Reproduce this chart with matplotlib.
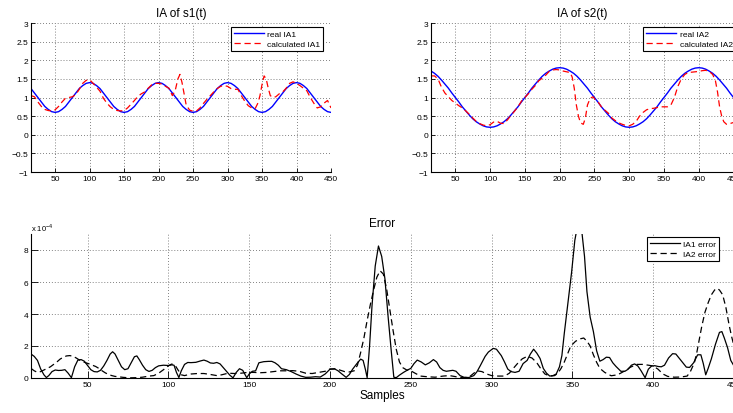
import numpy as np
import matplotlib
matplotlib.use("Agg")
import matplotlib.pyplot as plt

plt.rcParams['font.family'] = ['Liberation Sans', 'DejaVu Sans']
plt.rcParams['mathtext.fontset'] = 'custom'
plt.rcParams['mathtext.rm'] = 'Liberation Sans'

#DATA
#sample index of the real (smooth) amplitudes
samples = np.arange(15, 451, 5)

real_ia1 = [1.24, 1.12, 1.00, 0.88, 0.76, 0.68, 0.62, 0.60, 0.62, 0.68, 0.76, 0.88, 1.00, 1.12, 1.24, 1.32, 1.38,
            1.40, 1.38, 1.32, 1.24, 1.12, 1.00, 0.88, 0.76, 0.68, 0.62, 0.60, 0.62, 0.68, 0.76, 0.88, 1.00, 1.12, 1.24, 1.32, 1.38,
            1.40, 1.38, 1.32, 1.24, 1.12, 1.00, 0.88, 0.76, 0.68, 0.62, 0.60, 0.62, 0.68, 0.76, 0.88, 1.00, 1.12, 1.24, 1.32, 1.38,
            1.40, 1.38, 1.32, 1.24, 1.12, 1.00, 0.88, 0.76, 0.68, 0.62, 0.60, 0.62, 0.68, 0.76, 0.88, 1.00, 1.12, 1.24, 1.32, 1.38,
            1.40, 1.38, 1.32, 1.24, 1.12, 1.00, 0.88, 0.76, 0.68, 0.62, 0.60]

real_ia2 = [1.71, 1.65, 1.57, 1.47, 1.36, 1.25, 1.12, 1.00, 0.88, 0.75, 0.64, 0.53, 0.43, 0.35, 0.29, 0.24, 0.21,
            0.20, 0.21, 0.24, 0.29, 0.35, 0.43, 0.53, 0.64, 0.75, 0.88, 1.00, 1.12, 1.25, 1.36, 1.47, 1.57, 1.65, 1.71, 1.76, 1.79,
            1.80, 1.79, 1.76, 1.71, 1.65, 1.57, 1.47, 1.36, 1.25, 1.12, 1.00, 0.88, 0.75, 0.64, 0.53, 0.43, 0.35, 0.29, 0.24, 0.21,
            0.20, 0.21, 0.24, 0.29, 0.35, 0.43, 0.53, 0.64, 0.75, 0.88, 1.00, 1.12, 1.25, 1.36, 1.47, 1.57, 1.65, 1.71, 1.76, 1.79,
            1.80, 1.79, 1.76, 1.71, 1.65, 1.57, 1.47, 1.36, 1.25, 1.12, 1.00]

calc1_t = [15, 20, 25, 30, 35, 40, 45, 50, 55, 60, 65, 70, 75, 80, 85, 90, 95, 100, 105, 110, 115, 120, 125, 130,
           135, 140, 145, 150, 155, 160, 165, 170, 175, 180, 185, 190, 195, 200, 205, 210, 215, 220, 224, 228, 231,
           234, 237, 240, 245, 250, 255, 260, 265, 270, 275, 280, 285, 290, 295, 300, 305, 310, 315, 320, 325, 330,
           335, 340, 344, 347, 350, 353, 356, 359, 362, 366, 370, 375, 380, 385, 390, 395, 400, 405, 410, 415, 420,
           425, 430, 435, 440, 445, 450]
calc_ia1 = [1.05, 1.02, 0.88, 0.76, 0.68, 0.65, 0.64, 0.67, 0.76, 0.88, 0.98, 1.00, 1.02, 1.08, 1.22, 1.38, 1.46, 1.48,
            1.38, 1.28, 1.17, 0.98, 0.85, 0.75, 0.68, 0.65, 0.64, 0.65, 0.72, 0.82, 0.92, 1.03, 1.10, 1.15, 1.25, 1.34,
            1.38, 1.38, 1.36, 1.30, 1.25, 1.05, 1.18, 1.50, 1.62, 1.40, 1.10, 0.80, 0.66, 0.63, 0.64, 0.72, 0.84, 0.95,
            1.05, 1.15, 1.24, 1.30, 1.32, 1.30, 1.24, 1.22, 1.22, 1.05, 0.90, 0.78, 0.72, 0.70, 0.85, 1.05, 1.35, 1.58,
            1.50, 1.25, 1.05, 1.00, 1.02, 1.10, 1.15, 1.25, 1.38, 1.42, 1.38, 1.32, 1.25, 1.18, 1.00, 0.85, 0.72, 0.75,
            0.85, 0.92, 0.72]

calc2_t = [15, 20, 25, 30, 35, 40, 45, 50, 55, 60, 65, 70, 75, 80, 85, 90, 95, 100, 105, 110, 115, 120, 125, 130,
           135, 140, 145, 150, 155, 160, 165, 170, 175, 180, 185, 190, 195, 200, 205, 210, 215, 218, 221, 224, 227,
           230, 234, 237, 240, 244, 248, 252, 256, 260, 265, 270, 275, 280, 285, 290, 295, 300, 305, 310, 315, 320,
           325, 330, 335, 340, 345, 350, 355, 360, 365, 370, 375, 380, 385, 390, 395, 400, 405, 410, 415, 420, 424,
           427, 430, 433, 436, 440, 445, 450]
calc_ia2 = [1.58, 1.58, 1.50, 1.28, 1.12, 1.02, 0.92, 0.85, 0.78, 0.72, 0.64, 0.55, 0.45, 0.36, 0.30, 0.26, 0.24, 0.27,
            0.34, 0.36, 0.31, 0.30, 0.40, 0.52, 0.63, 0.75, 0.90, 1.00, 1.10, 1.22, 1.32, 1.45, 1.52, 1.60, 1.70, 1.74,
            1.75, 1.74, 1.71, 1.69, 1.67, 1.55, 1.25, 0.80, 0.50, 0.32, 0.28, 0.45, 0.80, 0.98, 1.02, 0.92, 0.86, 0.75,
            0.66, 0.58, 0.45, 0.38, 0.32, 0.28, 0.25, 0.24, 0.28, 0.36, 0.50, 0.60, 0.67, 0.70, 0.71, 0.73, 0.75, 0.75,
            0.75, 0.80, 1.00, 1.30, 1.50, 1.62, 1.67, 1.68, 1.69, 1.70, 1.72, 1.73, 1.70, 1.62, 1.45, 1.15, 0.75, 0.50,
            0.35, 0.28, 0.30, 0.33]

#errors, in units of 1e-4
err1_t = [15, 17, 19, 21, 23, 24.5, 26, 28, 30, 32, 34, 36, 38, 40, 42, 44, 46, 48, 50, 52, 54, 56, 58, 60, 62, 64,
          65.5, 67, 69, 71, 73, 75, 77, 79, 80.5, 82, 84, 86, 88, 90, 92, 94, 97, 100, 102, 103.5, 105, 106.5, 108,
          110, 112, 114, 117, 120, 122, 124, 126, 128, 130, 132, 134, 136, 138, 140, 142, 144, 146, 148.5, 150, 152,
          154, 156, 159, 162, 164, 166, 168, 170, 173, 176, 179, 182, 185, 188, 191, 194, 197, 200, 203, 205, 207,
          210, 212, 214, 216.5, 219, 220.5, 222, 223, 224.5, 226, 228, 230, 232, 234, 236, 238, 239.5, 241, 243,
          245.5, 248, 250, 252, 254, 256.5, 259, 261.5, 264, 266, 268, 270, 272, 274, 276, 278, 280.5, 283, 286, 289,
          291, 293, 296, 298, 301, 303, 306, 308, 310, 312, 314.5, 317, 319.5, 322, 324, 326, 328, 330, 332, 334,
          336, 338, 340, 342, 343.5, 345, 347, 349.5, 351.5, 353.5, 356, 357.5, 359, 361, 363, 365, 367, 369, 371,
          373, 375, 377, 380, 382.5, 384.5, 386.5, 388.5, 390.5, 392.5, 395, 397, 399, 401, 403, 405, 407, 409.5,
          412, 414, 416, 418, 420.5, 422.5, 425, 427.5, 429.5, 431, 432.5, 434, 436, 438.5, 441, 442.5, 444, 446,
          448, 450]
err_ia1 = [1.50, 1.35, 1.10, 0.56, 0.20, 0.03, 0.15, 0.40, 0.50, 0.47, 0.48, 0.52, 0.30, 0.02, 0.70, 1.12, 1.15, 1.05,
           0.78, 0.52, 0.40, 0.38, 0.48, 0.75, 1.10, 1.50, 1.64, 1.50, 1.10, 0.70, 0.52, 0.58, 0.95, 1.33, 1.38, 1.15,
           0.80, 0.52, 0.41, 0.48, 0.65, 0.76, 0.80, 0.78, 0.82, 0.80, 0.35, 0.03, 0.45, 0.85, 0.97, 0.96, 0.98, 1.07,
           1.12, 1.05, 0.94, 0.92, 0.97, 0.88, 0.65, 0.42, 0.18, 0.01, 0.35, 0.58, 0.48, 0.02, 0.25, 0.42, 0.45, 0.95,
           1.02, 1.04, 1.04, 0.95, 0.80, 0.58, 0.52, 0.40, 0.25, 0.12, 0.04, 0.05, 0.08, 0.06, 0.25, 0.55, 0.56, 0.45,
           0.28, 0.04, 0.22, 0.55, 0.88, 1.18, 1.10, 0.50, 0.02, 2.0, 4.5, 7.0, 8.25, 7.6, 6.2, 3.8, 1.6, 0.05, 0.02,
           0.18, 0.35, 0.50, 0.60, 0.90, 1.12, 1.00, 0.82, 0.95, 1.15, 1.00, 0.65, 0.48, 0.42, 0.45, 0.48, 0.42, 0.15,
           0.04, 0.03, 0.15, 0.40, 0.77, 1.35, 1.62, 1.85, 1.80, 1.40, 1.00, 0.56, 0.40, 0.35, 0.42, 0.90, 1.10, 1.50,
           1.80, 1.55, 1.22, 0.60, 0.30, 0.12, 0.15, 0.25, 0.70, 1.40, 2.8, 4.5, 6.6, 8.6, 9.7, 9.0, 7.6, 5.4, 3.8,
           2.9, 1.7, 1.05, 1.15, 1.30, 1.28, 0.95, 0.72, 0.42, 0.42, 0.55, 0.80, 0.88, 0.75, 0.45, 0.02, 0.55, 0.75,
           0.77, 0.72, 0.70, 0.80, 1.25, 1.52, 1.50, 1.25, 1.00, 0.68, 0.66, 0.95, 1.45, 1.45, 0.90, 0.20, 0.60, 1.20,
           2.10, 2.85, 2.90, 2.50, 1.90, 1.10, 0.75]

err2_t = [15, 17, 19, 21, 23, 25, 27, 29, 31, 33, 35, 37, 39, 41, 43, 45, 47, 49, 51, 53, 55, 57, 59, 61, 63, 65, 67,
          69, 72, 76, 80, 84, 88, 91, 94, 97, 100, 102, 104, 106, 108, 110, 112, 114, 118, 122, 126, 130, 133, 137,
          141, 145, 149, 153, 157, 161, 165, 169, 173, 177, 181, 185, 189, 193, 197, 200, 203, 206, 209, 212, 215,
          217, 219, 221, 223, 225, 227, 229, 231, 233, 235, 237, 239, 241, 243, 245, 247.5, 250, 253, 256, 260, 265,
          270, 274, 278, 282, 286, 289, 291, 294, 297, 300, 304, 308, 311, 313, 316, 319, 322, 325, 328, 331, 333,
          336, 339, 341, 343, 345, 347, 349, 352, 355, 357, 359, 361, 363, 365, 367, 370, 374, 378, 382, 386, 390,
          394, 397, 400, 403, 406, 409, 413, 417, 421, 423, 425.5, 427, 428.5, 430, 432, 434, 436, 438, 439.5, 441,
          443, 445, 447, 448.5, 450]
err_ia2 = [0.60, 0.45, 0.35, 0.40, 0.50, 0.60, 0.70, 0.85, 1.00, 1.18, 1.30, 1.38, 1.40, 1.36, 1.25, 1.12, 1.02, 0.95,
           0.88, 0.80, 0.72, 0.60, 0.45, 0.32, 0.22, 0.15, 0.10, 0.08, 0.04, 0.01, 0.02, 0.05, 0.12, 0.15, 0.30, 0.52,
           0.76, 0.87, 0.82, 0.50, 0.20, 0.15, 0.20, 0.25, 0.28, 0.28, 0.22, 0.15, 0.20, 0.30, 0.28, 0.30, 0.35, 0.35,
           0.33, 0.35, 0.40, 0.45, 0.45, 0.46, 0.42, 0.30, 0.28, 0.35, 0.42, 0.56, 0.58, 0.50, 0.40, 0.38, 0.45, 0.80,
           1.60, 2.50, 3.60, 4.60, 5.50, 6.30, 6.70, 6.50, 5.60, 4.30, 3.00, 1.80, 1.00, 0.65, 0.50, 0.45, 0.28, 0.12,
           0.08, 0.05, 0.12, 0.15, 0.08, 0.02, 0.05, 0.30, 0.45, 0.40, 0.25, 0.15, 0.12, 0.12, 0.30, 0.55, 0.90, 1.20,
           1.35, 1.25, 0.95, 0.50, 0.25, 0.12, 0.15, 0.30, 0.60, 1.00, 1.50, 2.00, 2.30, 2.45, 2.50, 2.30, 2.00, 1.45,
           0.98, 0.60, 0.35, 0.14, 0.20, 0.42, 0.68, 0.85, 0.85, 0.80, 0.75, 0.55, 0.25, 0.10, 0.05, 0.06, 0.12, 0.40,
           0.96, 1.60, 2.40, 3.20, 4.10, 4.70, 5.20, 5.50, 5.60, 5.50, 5.20, 4.40, 3.30, 2.60, 2.00]

x_ticks = [50, 100, 150, 200, 250, 300, 350, 400, 450]
ia_yticks = [-1, -0.5, 0, 0.5, 1, 1.5, 2, 2.5, 3]
ia_ylabels = ['\u22121', '\u22120.5', '0', '0.5', '1', '1.5', '2', '2.5', '3']
err_yticks = [0, 2, 4, 6, 8]


#function that styles one matlab-like axes
def style_axes(ax, ticklen):
    ax.set_xlim(15, 450)
    ax.set_xticks(x_ticks)
    for side in ['top', 'right']:
        ax.spines[side].set_visible(False)
    for side in ['left', 'bottom']:
        ax.spines[side].set_linewidth(0.8)
    ax.tick_params(direction='in', length=ticklen, width=0.6, labelsize=6, pad=2)
    ax.grid(True, linestyle=(0, (1, 2.5)), color='0.35', linewidth=0.6)
    ax.set_axisbelow(True)


def plot_ia(ax, real, calc_t, calc, title, labels, anchor):
    ax.plot(samples, real, color='blue', lw=1.0, label=labels[0])
    ax.plot(calc_t, calc, color='red', lw=0.9, dashes=(5, 3), label=labels[1])
    style_axes(ax, 3)
    ax.set_ylim(-1, 3)
    ax.set_yticks(ia_yticks)
    ax.set_yticklabels(ia_ylabels)
    ax.set_title(title, fontsize=8.5, pad=5)
    leg = ax.legend(loc='upper right', bbox_to_anchor=anchor, borderaxespad=0, fontsize=6,
                    handlelength=3.6, fancybox=False, framealpha=1, borderpad=0.35,
                    labelspacing=0.25, handletextpad=0.4)
    leg.get_frame().set_edgecolor('black')
    leg.get_frame().set_linewidth(0.8)


def main():
    fig = plt.figure(figsize=(7.33, 4.14), dpi=100)
    W, H = 733.0, 414.0
    ax1 = fig.add_axes([31 / W, (414 - 173) / H, 300 / W, 149 / H])
    ax2 = fig.add_axes([431 / W, (414 - 173) / H, 302.5 / W, 149 / H])
    ax3 = fig.add_axes([31 / W, (414 - 379) / H, 703 / W, 144 / H])

    plot_ia(ax1, real_ia1, calc1_t, calc_ia1, 'IA of s1(t)', ['real IA1', 'calculated IA1'],
            (1 - 8 / 300, 1 - 4 / 149))
    plot_ia(ax2, real_ia2, calc2_t, calc_ia2, 'IA of s2(t)', ['real IA2', 'calculated IA2'],
            (1.007, 1 - 4 / 149))

    #error plot
    ax3.plot(err1_t, err_ia1, color='black', lw=0.9, label='IA1 error')
    ax3.plot(err2_t, err_ia2, color='black', lw=0.9, dashes=(5, 3), label='IA2 error')
    style_axes(ax3, 5)
    ax3.set_ylim(0, 9)
    ax3.set_yticks(err_yticks)
    ax3.set_title('Error', fontsize=8.5, pad=6)
    ax3.set_xlabel('Samples', fontsize=8.5, labelpad=1)
    ax3.text(0, 1 + 3 / 144, r'x 10$^{\mathregular{-4}}$', transform=ax3.transAxes,
             fontsize=5.5, ha='left', va='baseline')
    leg = ax3.legend(loc='upper right', bbox_to_anchor=((719 - 31) / 703, 1 - 3 / 144), borderaxespad=0,
                     fontsize=6, handlelength=3.6, fancybox=False, framealpha=1, borderpad=0.35,
                     labelspacing=0.25, handletextpad=0.4)
    leg.get_frame().set_edgecolor('black')
    leg.get_frame().set_linewidth(0.8)

    fig.savefig('out.png', dpi=100)


if __name__ == "__main__":
    main()
